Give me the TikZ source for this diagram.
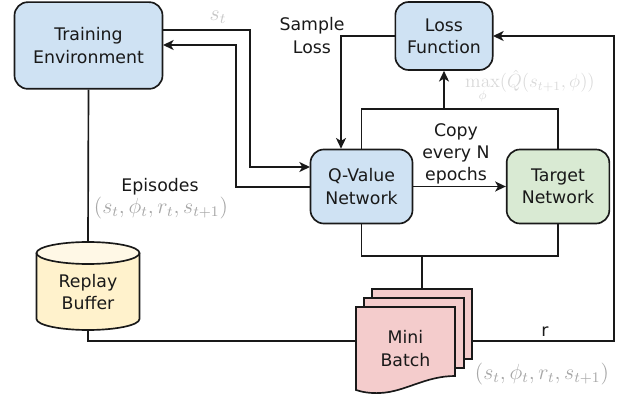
\documentclass[tikz,border=0pt]{standalone}
\usepackage[no-math]{fontspec}
\setmainfont{DejaVu Sans}
\usepackage{amsmath}
\usetikzlibrary{arrows.meta}
\definecolor{cblue}{HTML}{CFE2F3}
\definecolor{cgreen}{HTML}{D9EAD3}
\definecolor{cyellow}{HTML}{FFF2CC}
\definecolor{cyellowtop}{HTML}{FFF8E6}
\definecolor{cpink}{HTML}{F4CCCC}
\tikzset{
  lbl/.style={align=center,font=\fontsize{13}{16.6}\selectfont,inner sep=0pt,text=black!90},
  rbox/.style={lbl,draw=black!90,line width=1.25pt,rounded corners=10pt,inner sep=0pt},
  conn/.style={draw=black!90,line width=1.25pt},
  arr/.style={conn,-{Stealth[length=8pt,width=7.5pt,inset=2.2pt]}},
  sheet/.style={draw=black!90,line width=1.25pt,fill=cpink,line join=miter},
  mathlbl/.style={inner sep=0pt,font=\fontsize{12}{14}\selectfont,scale=1.37},
  ghost/.style={inner sep=0pt,minimum width=#1,draw=none}
}
\begin{document}
\begin{tikzpicture}[x=0.75pt,y=-0.75pt]
\useasboundingbox (0,0) rectangle (626,399);
% boxes
\node[rbox,fill=cblue,minimum width=111pt,minimum height=65pt] (train) at (88.5,45.5) {Training\\Environment};
\node[rbox,fill=cblue,minimum width=73pt,minimum height=51pt] (loss) at (444,36) {Loss\\Function};
\node[rbox,fill=cblue,minimum width=76.5pt,minimum height=55.5pt] (qnet) at (361.5,186.5) {Q-Value\\Network};
\node[rbox,fill=cgreen,minimum width=77pt,minimum height=55.5pt] (tnet) at (558,186.5) {Target\\Network};
% replay buffer cylinder
\draw[sheet,fill=cyellow] (36.5,253) -- (36.5,319) arc[start angle=180,end angle=360,x radius=51.5,y radius=-11] -- (139.5,253);
\draw[sheet,fill=cyellowtop] (88,253) ellipse[x radius=51.5,y radius=-11];
\node[ghost=77pt,minimum height=65pt] (replay) at (88,286) {};
\node[lbl] (replaytext) at (88,292) {Replay\\Buffer};
% mini batch sheets
\draw[sheet] (372,289) -- (472,289) -- (472,359) -- (372,359) -- cycle;
\draw[sheet] (364,298) -- (464,298) -- (464,368) -- (364,368) -- cycle;
\draw[sheet] (356,307) -- (455,307) -- (455,376) .. controls (425,376) and (405,392) .. (380,393) .. controls (370,393.5) and (362,392) .. (356,390) -- cycle;
\node[lbl,minimum width=74pt,minimum height=62pt] (mini) at (405.5,348.5) {Mini\\Batch};
\node[ghost=75pt,minimum height=52pt] (sheetback) at (422,324) {};
% junction coordinates
\coordinate (trainout) at (163,30);
\coordinate (bendA) at (250,30);
\coordinate (qinA) at (310,167);
\coordinate (qoutB) at (310,187);
\coordinate (bendB) at (236,187);
\coordinate (trainin) at (163,45);
\coordinate (lossL) at (395,36);
\coordinate (lossR) at (493,36);
\coordinate (bendL) at (341,36);
\coordinate (busTop) at (361,109);
\coordinate (busBot) at (361,256);
\coordinate (bottomline) at (88,341);
\coordinate (rightline) at (614,341);
% connectors
\draw[arr] (trainout) -- (bendA) |- (qinA);
\draw[arr] (qoutB) -- (bendB) |- (trainin);
\draw[conn] (train.south) -- (replay.north);
\draw[conn] (replay.south) -- (bottomline) -- (mini.west |- bottomline);
\draw[arr] (sheetback.east |- rightline) -- (rightline) |- (lossR);
\draw[arr] (lossL) -- (bendL) -- (bendL |- qnet.north);
\draw[conn] (qnet.north) |- (busTop) -| (tnet.north);
\draw[arr] (busTop -| loss.south) -- (loss.south);
\draw[arr] (qnet.east) -- (tnet.west);
\draw[conn] (qnet.south) |- (busBot) -| (tnet.south);
\draw[conn] (busBot -| sheetback.north) -- (sheetback.north);
% labels
\node[lbl] (samplelbl) at (312,35.5) {Sample\\Loss};
\node[lbl] (copylbl) at (456,154) {Copy\\every N\\epochs};
\node[lbl] (epilbl) at (160,187) {Episodes};
\node[lbl] (rlbl) at (545,331.5) {r};
\node[mathlbl,text=black!22] (stlbl) at (218,17) {$s_t$};
\node[mathlbl,text=black!35] (tup1) at (161,208) {$(s_t,\phi_t,r_t,s_{t+1})$};
\node[mathlbl,text=black!35] (tup2) at (542,374) {$(s_t,\phi_t,r_t,s_{t+1})$};
\node[inner sep=0pt,font=\fontsize{12}{14}\selectfont,scale=1.19,text=black!15] (maxlbl) at (530,87) {$\max\limits_{\phi}(\hat{Q}(s_{t+1},\phi))$};
\end{tikzpicture}
\end{document}
